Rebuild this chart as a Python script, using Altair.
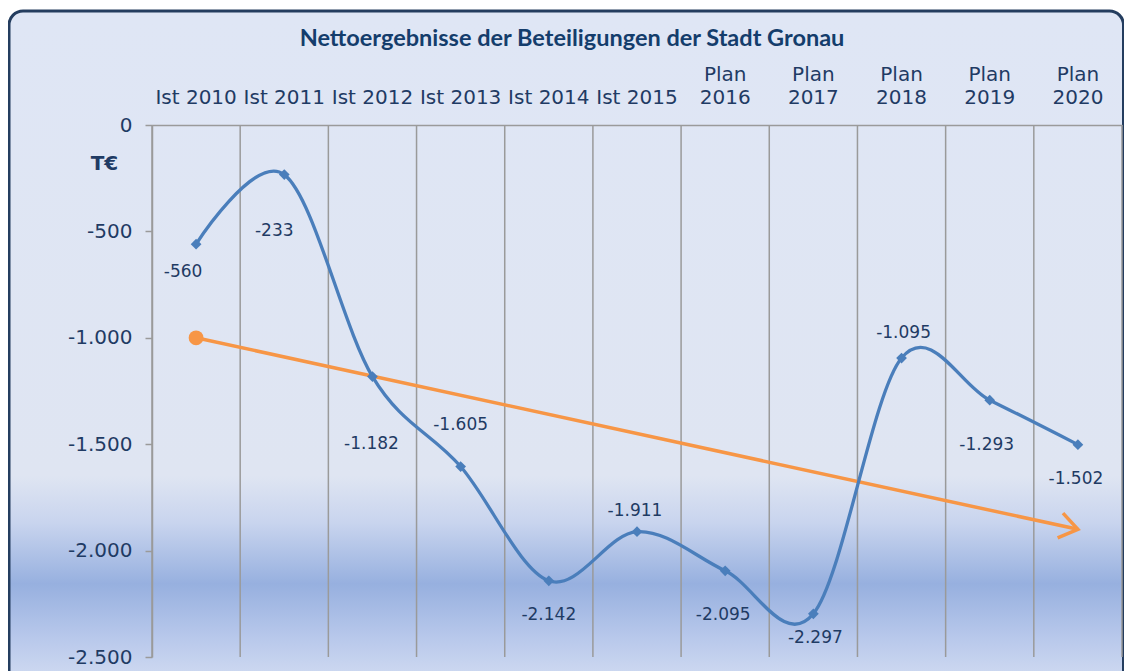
import math
import altair as alt
import pandas as pd

# ---- data ----
categories = ["Ist 2010", "Ist 2011", "Ist 2012", "Ist 2013", "Ist 2014", "Ist 2015",
              "Plan 2016", "Plan 2017", "Plan 2018", "Plan 2019", "Plan 2020"]
values = [-560, -233, -1182, -1605, -2142, -1911, -2095, -2297, -1095, -1293, -1502]
trend_cats = ["Ist 2010", "Plan 2020"]
trend_values = [-1000, -1900]
y_ticks = [0, -500, -1000, -1500, -2000, -2500]
title_text = "Nettoergebnisse der Beteiligungen der Stadt Gronau"

# label placement (pixel nudges relative to each point)
label_dx = [-13, -10, -1, 0, 0, -2, -2, 2, 2, -3, -2]
label_dy = [28, 56, 67, -42, 34, -21, 44, 24, -25, 45, 34]

W, H = 970, 532
NAVY = "#1f3b64"
BLUE = "#4a7ebb"
ORANGE = "#f79646"
GRID = "#9a9a9a"

df = pd.DataFrame({
    "cat": categories,
    "val": values,
    "lbl": [f"{v:,}".replace(",", ".") for v in values],
    "ldx": label_dx,
    "ldy": label_dy,
})
trend = pd.DataFrame({"cat": trend_cats, "val": trend_values})
trend_start = trend.iloc[[0]]
trend_end = trend.iloc[[1]]

xscale = alt.Scale(type="band", domain=categories, paddingInner=0, paddingOuter=0)
xaxis = alt.Axis(orient="top", title=None, ticks=False, tickSize=0, grid=False,
                 labelAngle=0, labelFont="DejaVu Sans", labelFontSize=20, labelColor=NAVY,
                 labelPadding=41, labelLineHeight=23,
                 labelExpr="indexof(datum.label, 'Plan') == 0 ? split(datum.label, ' ') : ['', datum.label]",
                 domainColor=GRID, domainWidth=1.5, zindex=1)
yscale = alt.Scale(domain=[-2500, 0], nice=False, zero=False)
yaxis = alt.Axis(values=y_ticks, grid=False, title="T€", titleAngle=0,
                 titleX=-48, titleY=38, titleAlign="center", titleBaseline="middle",
                 titleFont="DejaVu Sans", titleFontSize=20, titleFontWeight="bold", titleColor=NAVY,
                 labelFont="DejaVu Sans", labelFontSize=20, labelColor=NAVY, labelPadding=13,
                 labelExpr="datum.value == 0 ? '0' : '-' + replace(format(abs(datum.value), ','), ',', '.')",
                 tickSize=7, tickColor=GRID, tickWidth=1.5,
                 domainColor=GRID, domainWidth=1.5, zindex=1)

def X(**kw):
    return alt.X("cat:N", sort=categories, scale=xscale, axis=xaxis, **kw)

def Y():
    return alt.Y("val:Q", scale=yscale, axis=yaxis)

one = pd.DataFrame({"k": [0]})

# frame background with gradient band
grad = alt.Gradient(
    gradient="linear", x1=0, x2=0, y1=0, y2=1,
    stops=[
        alt.GradientStop(offset=0.0, color="#dfe6f5"),
        alt.GradientStop(offset=0.69, color="#dfe5f2"),
        alt.GradientStop(offset=0.76, color="#c8d4ee"),
        alt.GradientStop(offset=0.85, color="#97b0df"),
        alt.GradientStop(offset=0.93, color="#b8c8eb"),
        alt.GradientStop(offset=1.0, color="#d3ddf2"),
    ],
)
bg = alt.Chart(one).mark_rect(
    fill=grad, stroke="#243d5f", strokeWidth=3, cornerRadius=14
).encode(x=alt.value(-143), x2=alt.value(971.5), y=alt.value(-114), y2=alt.value(560))

title = alt.Chart(one).mark_text(
    text=title_text, font="Lato", fontSize=23.5, fontWeight="bold", color="#143d6c",
    align="center", baseline="middle"
).encode(x=alt.value(420), y=alt.value(-86))

grid_left = alt.Chart(df).mark_rule(color=GRID, strokeWidth=1.5).encode(
    x=X(bandPosition=0), y=alt.datum(0), y2=alt.datum(-2500))
grid_right = alt.Chart(df.iloc[[-1]]).mark_rule(color=GRID, strokeWidth=1.5).encode(
    x=X(bandPosition=1), y=alt.datum(0), y2=alt.datum(-2500))

trend_line = alt.Chart(trend).mark_line(color=ORANGE, strokeWidth=3.5).encode(x=X(), y=Y())
trend_dot = alt.Chart(trend_start).mark_circle(color=ORANGE, size=220, opacity=1).encode(x=X(), y=Y())

# arrow direction from the chart geometry
step = W / len(categories)
dx_px = (categories.index(trend_cats[1]) - categories.index(trend_cats[0])) * step
dy_px = (trend_values[0] - trend_values[1]) * H / 2500
angle = math.degrees(math.atan2(dy_px, dx_px))
arrow_head = alt.Chart(trend_end).mark_point(
    shape="M-1,-0.7L0,0L-1,0.7", size=1300, filled=False, stroke=ORANGE,
    strokeWidth=3.5, opacity=1, angle=angle
).encode(x=X(), y=Y())

line = alt.Chart(df).mark_line(color=BLUE, strokeWidth=3.3, interpolate="cardinal").encode(x=X(), y=Y())
pts = alt.Chart(df).mark_point(shape="diamond", filled=True, size=115, color=BLUE, opacity=1).encode(x=X(), y=Y())
labels = alt.Chart(df).mark_text(
    font="DejaVu Sans", fontSize=17, color=NAVY, align="center", baseline="middle",
    dx=alt.expr("datum.ldx"), dy=alt.expr("datum.ldy")
).encode(x=X(), y=Y(), text="lbl:N")

chart = alt.layer(bg, title, grid_left, grid_right, trend_line, line, pts, labels, trend_dot, arrow_head).properties(
    width=W, height=H,
    autosize=alt.AutoSizeParams(type="none"),
    padding={"left": 144, "top": 117, "right": 2, "bottom": 14},
).configure_view(stroke=None).configure(background="white")

chart.save("out.html", embed_options={"renderer": "svg", "actions": False})
